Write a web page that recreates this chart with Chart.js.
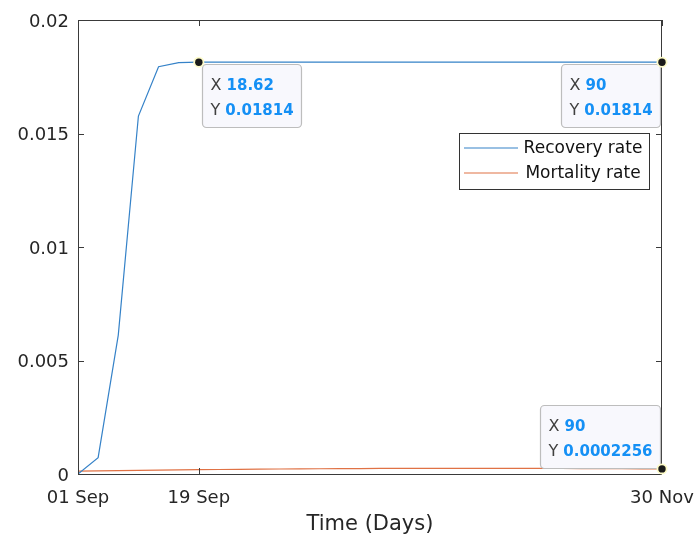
<!DOCTYPE html>
<html>
<head>
<meta charset="utf-8">
<script src="https://cdn.jsdelivr.net/npm/chart.js@4.4.1/dist/chart.umd.min.js"></script>
<style>
  html, body { margin: 0; padding: 0; background: #fff; }
  #wrap { width: 697px; height: 542px; }
</style>
</head>
<body>
<div id="wrap"><canvas id="c" width="697" height="542"></canvas></div>
<script>
// ---- data ----
const days = [0, 3.103, 6.207, 9.31, 12.414, 15.517, 18.621, 21.724, 24.828, 27.931,
  31.034, 34.138, 37.241, 40.345, 43.448, 46.552, 49.655, 52.759, 55.862, 58.966,
  62.069, 65.172, 68.276, 71.379, 74.483, 77.586, 80.69, 83.793, 86.897, 90];
const recoveryRate = [0, 0.00072, 0.00612, 0.01577, 0.01794, 0.01812, 0.01814, 0.01814, 0.01814, 0.01814,
  0.01814, 0.01814, 0.01814, 0.01814, 0.01814, 0.01814, 0.01814, 0.01814, 0.01814, 0.01814,
  0.01814, 0.01814, 0.01814, 0.01814, 0.01814, 0.01814, 0.01814, 0.01814, 0.01814, 0.01814];
const mortalityRate = [0.00013, 0.00014, 0.00015, 0.00016, 0.00017, 0.00018, 0.00019, 0.000198, 0.000206, 0.000213,
  0.00022, 0.000226, 0.000232, 0.000237, 0.000241, 0.000245, 0.000248, 0.00025, 0.000251, 0.000251,
  0.00025, 0.000249, 0.000247, 0.000245, 0.000242, 0.000239, 0.000236, 0.000232, 0.000229, 0.0002256];
const seriesNames = ['Recovery rate', 'Mortality rate'];
const xTickValues = [0, 18.62, 90];
const xTickLabels = ['01 Sep', '19 Sep', '30 Nov'];
const yTickValues = [0, 0.005, 0.01, 0.015, 0.02];
const yTickLabels = ['0', '0.005', '0.01', '0.015', '0.02'];
const xAxisTitle = 'Time (Days)';
// data tips
const tipX = [18.62, 90, 90];
const tipY = [0.01814, 0.01814, 0.0002256];
const tipXText = ['18.62', '90', '90'];
const tipYText = ['0.01814', '0.01814', '0.0002256'];
const tipSide = ['right-below', 'left-below', 'left-above'];

const FONT = "'DejaVu Sans', sans-serif";
const AXIS_COLOR = '#3a3a3a';

const boxAndExtras = {
  id: 'boxAndExtras',
  afterDatasetsDraw(chart) {
    const ctx = chart.ctx;
    const a = chart.chartArea;
    const xs = chart.scales.x, ys = chart.scales.y;
    ctx.save();
    // axes box
    ctx.strokeStyle = AXIS_COLOR;
    ctx.lineWidth = 1;
    ctx.strokeRect(Math.round(a.left) + 0.5, Math.round(a.top) + 0.5,
      Math.round(a.right - a.left) - 1, Math.round(a.bottom - a.top));
    // inner ticks
    const tl = 6;
    ctx.beginPath();
    xTickValues.forEach(v => {
      const px = Math.round(xs.getPixelForValue(v)) + 0.5;
      ctx.moveTo(px, a.bottom); ctx.lineTo(px, a.bottom - tl);
      ctx.moveTo(px, a.top); ctx.lineTo(px, a.top + tl);
    });
    yTickValues.forEach(v => {
      const py = Math.round(ys.getPixelForValue(v)) + 0.5;
      ctx.moveTo(a.left, py); ctx.lineTo(a.left + tl, py);
      ctx.moveTo(a.right, py); ctx.lineTo(a.right - tl, py);
    });
    ctx.stroke();

    // legend
    const lw = 190, lh = 56;
    const lx = Math.round(a.right) - 13 - lw, ly = Math.round(a.top) + 113;
    ctx.fillStyle = '#fff';
    ctx.fillRect(lx, ly, lw, lh);
    ctx.strokeStyle = '#333';
    ctx.lineWidth = 1;
    ctx.strokeRect(lx + 0.5, ly + 0.5, lw, lh);
    chart.data.datasets.forEach((ds, i) => {
      const yy = ly + 15 + i * 25;
      ctx.strokeStyle = ds.borderColor;
      ctx.lineWidth = 1.2;
      ctx.beginPath();
      ctx.moveTo(lx + 5, yy); ctx.lineTo(lx + 59, yy);
      ctx.stroke();
      ctx.fillStyle = '#111';
      ctx.font = '17px ' + FONT;
      ctx.textAlign = 'center';
      ctx.textBaseline = 'middle';
      ctx.fillText(ds.label, lx + 124, yy + 1);
    });

    // data tips
    tipX.forEach((xv, i) => {
      const px = xs.getPixelForValue(xv);
      const py = ys.getPixelForValue(tipY[i]);
      ctx.font = '16px ' + FONT;
      const wX = ctx.measureText('X ').width;
      const wY = ctx.measureText('Y ').width;
      ctx.font = 'bold 15px ' + FONT;
      const vX = ctx.measureText(tipXText[i]).width;
      const vY = ctx.measureText(tipYText[i]).width;
      const w = Math.round(8 + Math.max(wX + vX, wY + vY) + 8);
      const h = 63;
      let bx, by;
      if (tipSide[i] === 'right-below') { bx = px + 3; by = py + 2; }
      else if (tipSide[i] === 'left-below') { bx = px - 2 - w; by = py + 2; }
      else { bx = px - 2 - w; by = py - 1 - h; }
      bx = Math.round(bx) + 0.5; by = Math.round(by) + 0.5;
      ctx.fillStyle = '#f8f8fd';
      ctx.strokeStyle = '#bdbdbd';
      ctx.lineWidth = 1.2;
      ctx.beginPath();
      ctx.roundRect(bx, by, w, h, 4);
      ctx.fill();
      ctx.stroke();
      ctx.textAlign = 'left';
      ctx.textBaseline = 'alphabetic';
      ctx.font = '16px ' + FONT;
      ctx.fillStyle = '#404040';
      ctx.fillText('X ', bx + 8, by + 25);
      ctx.fillText('Y ', bx + 8, by + 50);
      ctx.font = 'bold 15px ' + FONT;
      ctx.fillStyle = '#1590f5';
      ctx.fillText(tipXText[i], bx + 8 + wX, by + 25);
      ctx.fillText(tipYText[i], bx + 8 + wY, by + 50);
      // marker
      ctx.beginPath();
      ctx.arc(px, py, 5.5, 0, Math.PI * 2);
      ctx.fillStyle = '#fdfbc8';
      ctx.fill();
      ctx.beginPath();
      ctx.arc(px, py, 3.7, 0, Math.PI * 2);
      ctx.fillStyle = '#1a1a1a';
      ctx.fill();
    });
    ctx.restore();
  }
};

new Chart(document.getElementById('c'), {
  type: 'line',
  data: {
    datasets: [
      {
        label: seriesNames[0],
        data: days.map((d, i) => ({ x: d, y: recoveryRate[i] })),
        borderColor: '#3582c8',
        borderWidth: 1.2,
        pointRadius: 0,
        tension: 0,
        fill: false
      },
      {
        label: seriesNames[1],
        data: days.map((d, i) => ({ x: d, y: mortalityRate[i] })),
        borderColor: '#e07245',
        borderWidth: 1.2,
        pointRadius: 0,
        tension: 0,
        fill: false
      }
    ]
  },
  options: {
    responsive: false,
    animation: false,
    devicePixelRatio: 1,
    layout: { padding: { top: 20, right: 35, left: 0, bottom: 0 } },
    plugins: {
      legend: { display: false },
      tooltip: { enabled: false },
      title: { display: false }
    },
    scales: {
      x: {
        type: 'linear',
        min: 0,
        max: 90,
        afterBuildTicks(scale) { scale.ticks = xTickValues.map(v => ({ value: v })); },
        afterFit(scale) { scale.height = 68; scale.paddingLeft = 0; scale.paddingRight = 0; },
        grid: { display: false, drawTicks: false },
        border: { display: false },
        ticks: {
          autoSkip: false,
          maxRotation: 0,
          padding: 14,
          color: '#262626',
          font: { family: FONT, size: 18 },
          callback: (v, i) => xTickLabels[i]
        },
        title: {
          display: true,
          text: xAxisTitle,
          color: '#262626',
          font: { family: FONT, size: 21 },
          padding: { top: 0, bottom: 5 }
        }
      },
      y: {
        type: 'linear',
        min: 0,
        max: 0.02,
        afterBuildTicks(scale) { scale.ticks = yTickValues.map(v => ({ value: v })); },
        afterFit(scale) { scale.width = 78; scale.paddingTop = 0; scale.paddingBottom = 0; },
        grid: { display: false, drawTicks: false },
        border: { display: false },
        ticks: {
          autoSkip: false,
          padding: 9,
          labelOffset: 2,
          color: '#262626',
          font: { family: FONT, size: 18 },
          callback: (v, i) => yTickLabels[i]
        }
      }
    }
  },
  plugins: [boxAndExtras]
});
</script>
</body>
</html>
